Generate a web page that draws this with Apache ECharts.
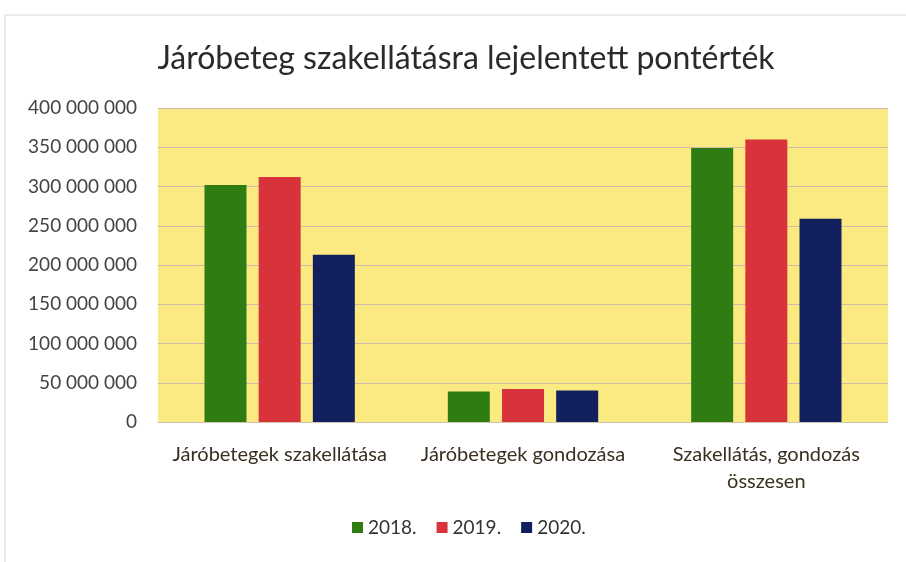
<!DOCTYPE html>
<html>
<head>
<meta charset="utf-8">
<script src="https://cdn.jsdelivr.net/npm/echarts@6/dist/echarts.min.js"></script>
<style>
  html, body { margin: 0; padding: 0; background: #fff; }
  #chart { width: 906px; height: 562px; }
</style>
</head>
<body>
<div id="chart"></div>
<script>
// adatok
var categories = ['Járóbetegek szakellátása', 'Járóbetegek gondozása', 'Szakellátás, gondozás\nösszesen'];
var years = ['2018.', '2019.', '2020.'];
var values2018 = [302000000, 39000000, 349000000];
var values2019 = [312000000, 42000000, 360000000];
var values2020 = [213000000, 40000000, 259000000];
var colors = ['#2f7d12', '#d8333a', '#12205e'];

var chart = echarts.init(document.getElementById('chart'));

var option = {
    color: colors,
    title: {
        text: 'Járóbeteg szakellátásra lejelentett pontérték',
        left: 461,
        textAlign: 'center',
        top: 38,
        textStyle: { fontFamily: 'Lato', fontSize: 32, fontWeight: 'normal', color: '#2a2a2a' }
    },
    graphic: [{
        type: 'rect',
        shape: { x: 5, y: 15, width: 905, height: 560 },
        style: { fill: null, stroke: '#d6d6d6', lineWidth: 1 },
        silent: true
    }],
    legend: {
        data: years,
        bottom: 20,
        left: 347,
        itemWidth: 11,
        itemHeight: 11,
        itemGap: 20,
        icon: 'rect',
        textStyle: { fontFamily: 'Lato', fontSize: 19, color: '#333' }
    },
    grid: {
        left: 158,
        right: 18,
        top: 108,
        bottom: 140,
        show: true,
        backgroundColor: '#fbea82',
        borderWidth: 0
    },
    xAxis: {
        type: 'category',
        data: categories,
        axisLine: { lineStyle: { color: '#cfc4b0' } },
        axisTick: { show: false },
        axisLabel: { fontFamily: 'Lato', fontSize: 20, color: '#3a3020', margin: 19, lineHeight: 27, interval: 0 }
    },
    yAxis: {
        type: 'value',
        min: 0,
        max: 400000000,
        interval: 50000000,
        axisLine: { show: false },
        axisTick: { show: false },
        splitLine: { lineStyle: { color: '#cdbcae' } },
        axisLabel: {
            fontFamily: 'Lato',
            fontSize: 19,
            color: '#444',
            margin: 21,
            formatter: function (v) {
                return String(v).replace(/\B(?=(\d{3})+(?!\d))/g, ' ');
            }
        }
    },
    series: [
        { name: years[0], type: 'bar', data: values2018, barWidth: 42, barGap: '29%' },
        { name: years[1], type: 'bar', data: values2019, barWidth: 42, barGap: '29%' },
        { name: years[2], type: 'bar', data: values2020, barWidth: 42, barGap: '29%' }
    ]
};

chart.setOption(option);
</script>
</body>
</html>
